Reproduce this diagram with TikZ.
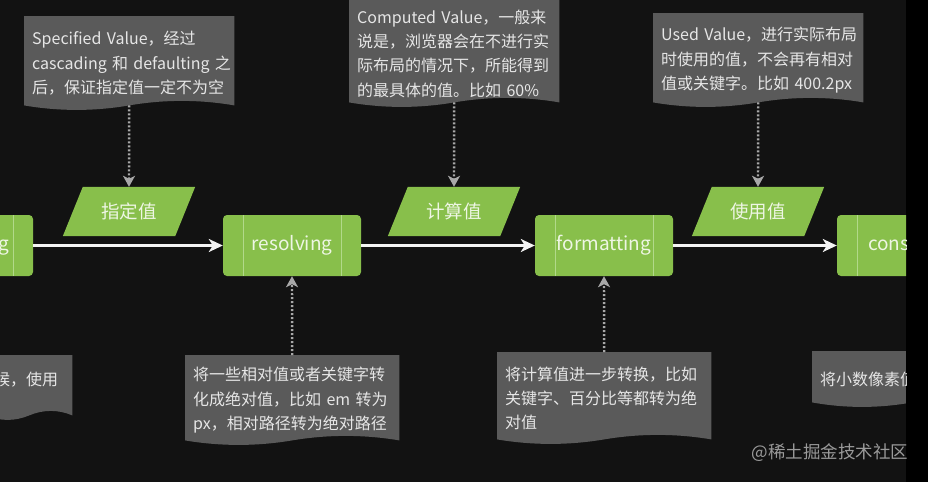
\documentclass[tikz,border=0pt]{standalone}
\usepackage{fontspec}
\setmainfont{Noto Sans CJK SC}
\usetikzlibrary{arrows.meta,calc,backgrounds}
\definecolor{bgcol}{HTML}{121212}
\definecolor{docgray}{HTML}{5A5A5A}
\definecolor{doctext}{HTML}{E6E6E6}
\definecolor{procgreen}{HTML}{88BF4B}
\definecolor{procline}{HTML}{B2D98A}
\definecolor{proctext}{HTML}{EEF6E4}
\definecolor{flowwhite}{HTML}{F4F4F4}
\definecolor{dotgray}{HTML}{A8A8A8}
\definecolor{wmgray}{HTML}{9A9A9A}
\newcommand\dl[1]{\mbox{#1}}
\newcommand\docshape[2]{%
  \path let \p1=(#1.north west), \p2=(#1.south east) in
    [fill=docgray] (\x1,\y1) -- (\x2,\y1) -- (\x2,{\y2-#2+5pt})
    .. controls ({\x2-(\x2-\x1)/6},{\y2-#2+11pt}) and ({\x2-(\x2-\x1)/3},{\y2-#2+11pt}) .. ({(\x1+\x2)/2},{\y2-#2+5pt})
    .. controls ({\x1+(\x2-\x1)/3},{\y2-#2-1pt}) and ({\x1+(\x2-\x1)/6},{\y2-#2-1pt}) .. (\x1,{\y2-#2+5pt}) -- cycle;}
\newcommand\parashape[1]{%
  \fill[procgreen] ([xshift=10pt]#1.north west) -- ([xshift=10pt]#1.north east)
    -- ([xshift=-10pt]#1.south east) -- ([xshift=-10pt]#1.south west) -- cycle;}
\begin{document}
\begin{tikzpicture}[x=1pt,y=-1pt,
  doc/.style={anchor=north west, inner xsep=8pt, inner ysep=0pt, align=left,
    text=doctext, font=\fontsize{16}{24.3}\selectfont,
    execute at begin node={\hbadness=10000\hfuzz=200pt}},
  proc/.style={rectangle, rounded corners=4pt, fill=procgreen, minimum width=138pt,
    minimum height=61pt, inner sep=0pt, text=proctext, font=\fontsize{19}{22}\selectfont,
    path picture={\draw[procline, line width=1pt]
      ([xshift=20pt]path picture bounding box.north west) -- ([xshift=20pt]path picture bounding box.south west)
      ([xshift=-20pt]path picture bounding box.north east) -- ([xshift=-20pt]path picture bounding box.south east);}},
  para/.style={rectangle, minimum width=112pt, minimum height=49pt, inner sep=0pt,
    text=proctext, font=\fontsize{18.5}{22}\selectfont},
  flow/.style={draw=flowwhite, line width=2.6pt, -{Stealth[length=14pt,width=13pt,inset=4pt]}},
  dotarrow/.style={draw=dotgray, line width=2.4pt, dash pattern=on 2pt off 2pt,
    -{Stealth[length=11pt,width=12pt,inset=3pt]}},
  wm/.style={text=wmgray, font=\fontsize{17.5}{20}\selectfont, inner sep=0pt}
]
\path[use as bounding box] (0,0) rectangle (928,482);
\begin{scope}
\clip (0,0) rectangle (906,482);
% documents
\node[doc, text width=194pt, minimum width=210pt, minimum height=94pt] (d1) at (24,16)
  {\dl{Specified Value，经过}\\\dl{cascading 和 defaulting 之}\\\dl{后，保证指定值一定不为空}};
\node[doc, text width=194pt, minimum width=210pt, minimum height=107pt] (d2) at (349,0)
  {\dl{Computed Value，一般来}\\\dl{说是，浏览器会在不进行实}\\\dl{际布局的情况下，所能得到}\\\dl{的最具体的值。比如 60\%}};
\node[doc, text width=194pt, minimum width=210pt, minimum height=94pt] (d3) at (653,13)
  {\dl{Used Value，进行实际布局}\\\dl{时使用的值，不会再有相对}\\\dl{值或关键字。比如 400.2px}};
\node[doc, text width=198pt, minimum width=214pt, minimum height=90pt] (d4) at (185,355)
  {\dl{将一些相对值或者关键字转}\\\dl{化成绝对值，比如 em 转为}\\\dl{px，相对路径转为绝对路径}};
\node[doc, text width=198pt, minimum width=214pt, minimum height=92pt] (d5) at (497,352)
  {\dl{将计算值进一步转换，比如}\\\dl{关键字、百分比等都转为绝}\\\dl{对值}};
\node[doc, text width=70pt, minimum width=86pt, minimum height=48pt] (d6) at (-14,355)
  {\dl{候，使用}};
\node[doc, text width=184pt, minimum width=200pt, minimum height=56pt] (d7) at (812,351)
  {\dl{将小数像素值}};
% data parallelograms
\node[para] (p1) at (129,211.5) {指定值};
\node[para] (p2) at (454,211.5) {计算值};
\node[para] (p3) at (758,211.5) {使用值};
% processes
\node[proc] (b1) at (-36,245.5) {defaulting};
\node[proc] (b2) at (292,245.5) {resolving};
\node[proc] (b3) at (604,245.5) {formatting};
\node[proc, minimum width=172pt] (b4) at (923,245.5) {constraining};
% connectors
\draw[flow] (b1) -- (b2);
\draw[flow] (b2) -- (b3);
\draw[flow] (b3) -- (b4);
\draw[dotarrow] ([yshift=5pt]d1.south) -- (p1.north);
\draw[dotarrow] ([yshift=5pt]d2.south) -- (p2.north);
\draw[dotarrow] ([yshift=5pt]d3.south) -- (p3.north);
\draw[dotarrow] (d4.north) -- (b2.south);
\draw[dotarrow] (d5.north) -- (b3.south);
\end{scope}
\begin{pgfonlayer}{background}
\fill[bgcol] (0,0) rectangle (928,482);
\begin{scope}
\clip (0,0) rectangle (906,482);
\docshape{d1}{0pt}
\docshape{d2}{0pt}
\docshape{d3}{0pt}
\docshape{d4}{0pt}
\docshape{d5}{0pt}
\docshape{d6}{17pt}
\docshape{d7}{0pt}
\parashape{p1}
\parashape{p2}
\parashape{p3}
\end{scope}
\fill[black] (906,0) rectangle (928,482);
\end{pgfonlayer}
\node[wm] (wm) at (830,453) {@稀土掘金技术社区};
\end{tikzpicture}
\end{document}
